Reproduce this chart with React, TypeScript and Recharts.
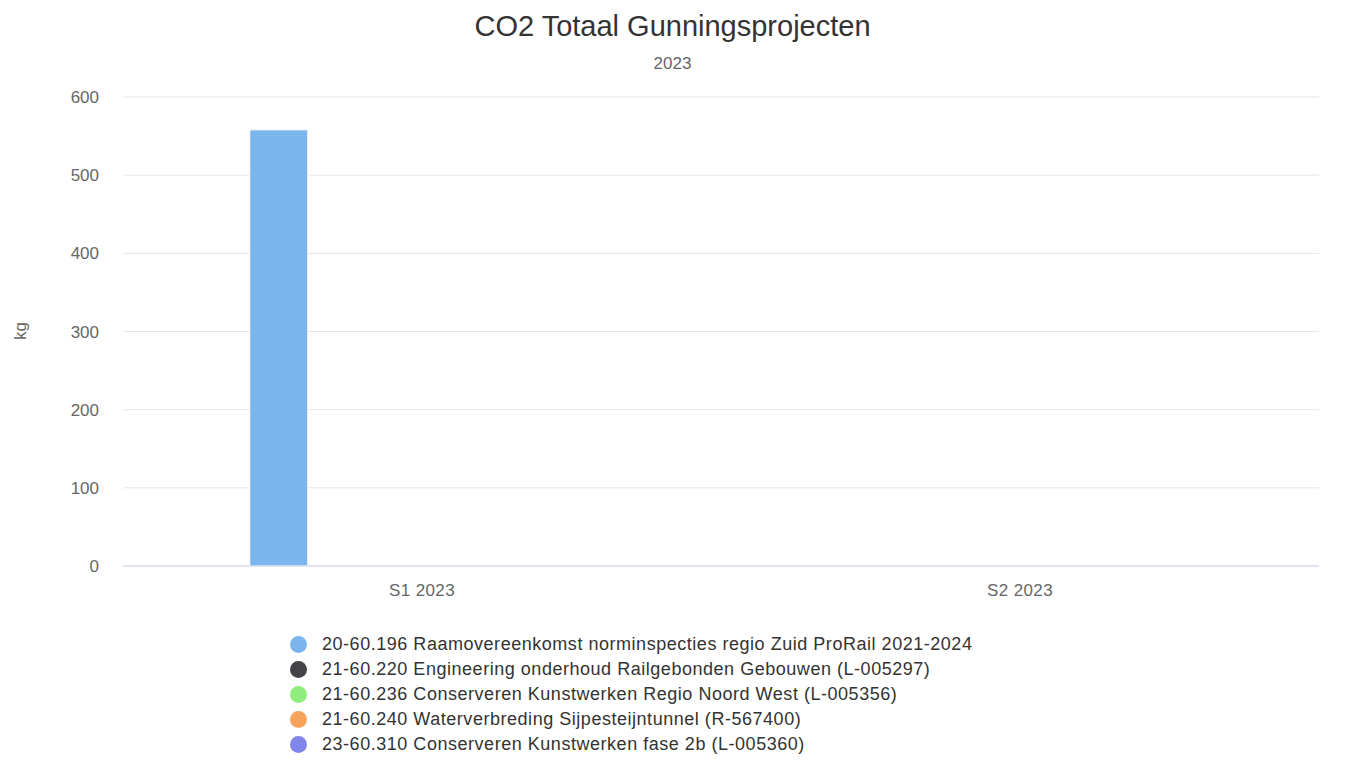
import { BarChart, Bar, XAxis, YAxis, CartesianGrid } from 'recharts'

const CATEGORIES = ['S1 2023', 'S2 2023']
const SERIES_NAMES = [
  '20-60.196 Raamovereenkomst norminspecties regio Zuid ProRail 2021-2024',
  '21-60.220 Engineering onderhoud Railgebonden Gebouwen (L-005297)',
  '21-60.236 Conserveren Kunstwerken Regio Noord West (L-005356)',
  '21-60.240 Waterverbreding Sijpesteijntunnel (R-567400)',
  '23-60.310 Conserveren Kunstwerken fase 2b (L-005360)',
]
const SERIES_VALUES = [
  [558, 0],
  [0, 0],
  [0, 0],
  [0, 0],
  [0, 0],
]
const SERIES_COLORS = ['#7cb5ec', '#434348', '#90ed7d', '#f7a35c', '#8085e9']
const Y_TICKS = [0, 100, 200, 300, 400, 500, 600]

const data = CATEGORIES.map((cat, i) => {
  const row: Record<string, string | number> = { category: cat }
  SERIES_VALUES.forEach((vals, s) => {
    row[`s${s}`] = vals[i]
  })
  return row
})

const FONT = '"Liberation Sans", Arial, Helvetica, sans-serif'

function LegendList() {
  return (
    <div style={{ position: 'absolute', left: 290, top: 632, fontFamily: FONT }}>
      {SERIES_NAMES.map((name, i) => (
        <div key={name} style={{ display: 'flex', alignItems: 'center', height: 25 }}>
          <span
            style={{
              width: 17,
              height: 17,
              borderRadius: '50%',
              background: SERIES_COLORS[i],
              display: 'inline-block',
              marginRight: 15,
            }}
          />
          <span style={{ fontSize: 18, color: '#333333', letterSpacing: 0.53 }}>{name}</span>
        </div>
      ))}
    </div>
  )
}

export default function App() {
  return (
    <div
      style={{
        position: 'absolute',
        left: 0,
        top: 0,
        width: 1365,
        height: 762,
        background: '#fff',
        fontFamily: FONT,
      }}
    >
      <BarChart
        width={1365}
        height={762}
        data={data}
        margin={{ top: 97, right: 46, bottom: 166, left: 63 }}
        barCategoryGap="21.2%"
        barGap={14}
        style={{ position: 'absolute', left: 0, top: 0 }}
      >
        <CartesianGrid vertical={false} stroke="#e6e6e6" />
        <XAxis
          dataKey="category"
          tickLine={false}
          tickSize={0}
          tickMargin={18}
          axisLine={{ stroke: '#ccd6eb' }}
          tick={{ fontSize: 17, fill: '#666666', fontFamily: FONT, letterSpacing: 0.4 }}
        />
        <YAxis
          width={60}
          domain={[0, 600]}
          ticks={Y_TICKS}
          axisLine={false}
          tickLine={false}
          tickSize={0}
          tickMargin={24}
          tick={{ fontSize: 17, fill: '#666666', fontFamily: FONT }}
        />
        {SERIES_NAMES.map((name, i) => (
          <Bar
            key={name}
            dataKey={`s${i}`}
            name={name}
            fill={SERIES_COLORS[i]}
            stroke="#ffffff"
            strokeWidth={1}
            isAnimationActive={false}
          />
        ))}
      </BarChart>
      <div
        style={{
          position: 'absolute',
          top: 10,
          left: 0,
          width: 1345,
          textAlign: 'center',
          fontSize: 29,
          color: '#333333',
        }}
      >
        CO2 Totaal Gunningsprojecten
      </div>
      <div
        style={{
          position: 'absolute',
          top: 54,
          left: 0,
          width: 1345,
          textAlign: 'center',
          fontSize: 17,
          color: '#666666',
        }}
      >
        2023
      </div>
      <div
        style={{
          position: 'absolute',
          left: 21,
          top: 331,
          transform: 'translate(-50%, -50%) rotate(-90deg)',
          fontSize: 17,
          color: '#666666',
        }}
      >
        kg
      </div>
      <LegendList />
    </div>
  )
}
